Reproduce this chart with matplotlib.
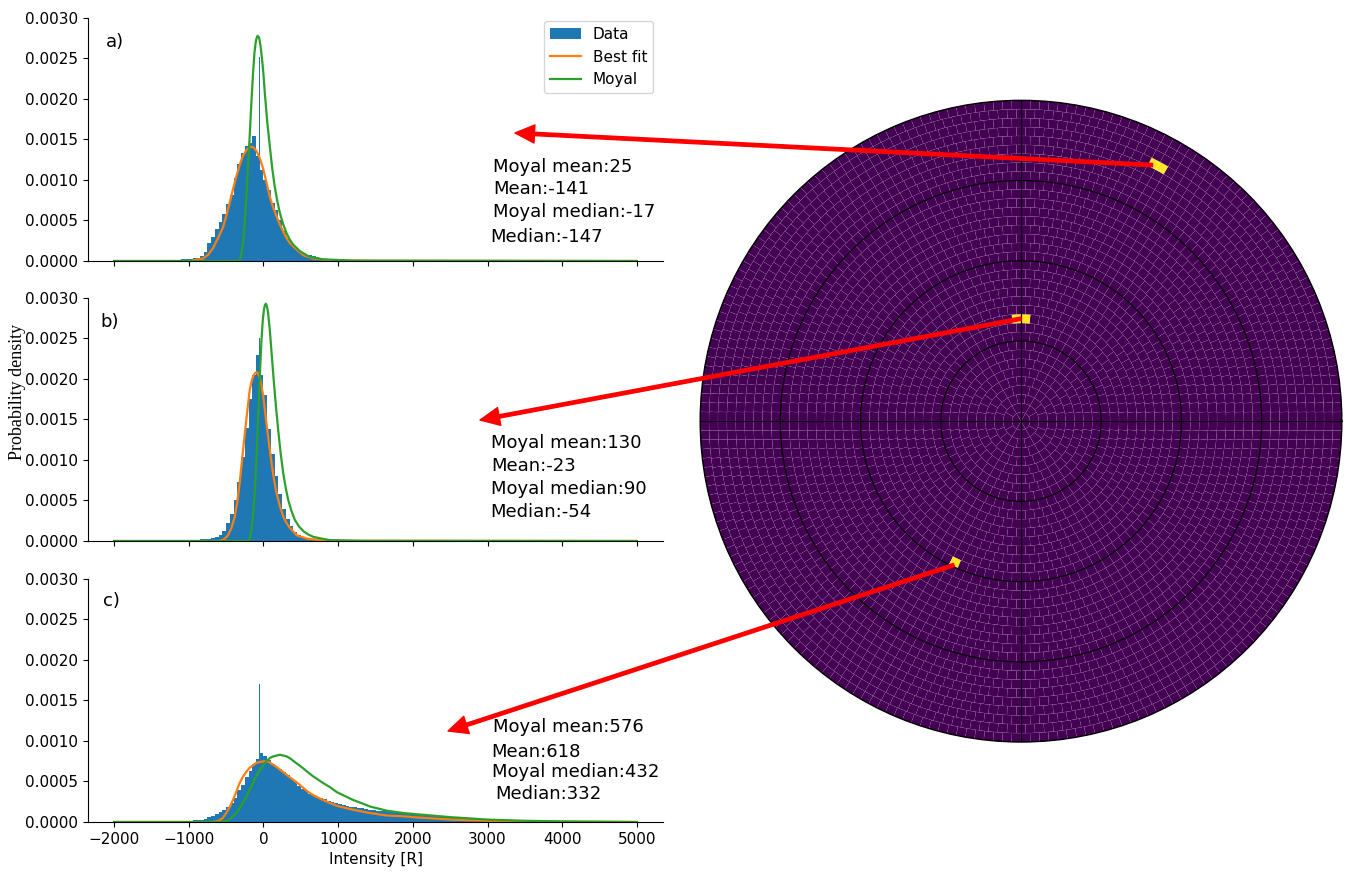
import numpy as np
import matplotlib
matplotlib.use('Agg')
import matplotlib.pyplot as plt
from matplotlib.ticker import FormatStrFormatter

# ---- histogram data (probability density per bin) ----
ab_edges = np.arange(-1100, 1101, 50)
a_hist = [0.00002, 0.00002, 0.00003, 0.00004, 0.00004, 0.00006, 0.00011, 0.00022, 0.0003, 0.00039,
          0.00048, 0.00058, 0.0007, 0.00082, 0.00103, 0.0012, 0.00133, 0.00142, 0.00146, 0.00154,
          0.0013, 0.00112, 0.001, 0.00088, 0.00072, 0.00063, 0.0005, 0.00037, 0.00027, 0.0002,
          0.00016, 0.00012, 0.0001, 0.00008, 0.00007, 0.00006, 0.00005, 0.00004, 0.00003, 0.00003,
          0.00002, 0.00002, 0.00001, 0.00001]
b_hist = [0, 0, 0, 0, 0.00001, 0.00002, 0.00003, 0.00003, 0.00004, 0.00005,
          0.00007, 0.00012, 0.00022, 0.00033, 0.0005, 0.00073, 0.00104, 0.0014, 0.00175, 0.00205,
          0.0023, 0.00205, 0.0018, 0.00138, 0.00108, 0.0008, 0.00058, 0.0004, 0.00027, 0.00018,
          0.00011, 0.00008, 0.00005, 0.00004, 0.00003, 0.00002, 0.00002, 0.00001, 0.00001, 0.00001,
          0.00001, 0, 0, 0]
c_edges = np.concatenate([np.arange(-1100, 2100, 50), np.arange(2100, 5001, 100)])
c_hist = [0.00001, 0.00001, 0.00001, 0.00002, 0.00002, 0.00003, 0.00004, 0.00006, 0.00008, 0.0001,
          0.00012, 0.00015, 0.00019, 0.00023, 0.0003, 0.00039, 0.00046, 0.00056, 0.00063, 0.00071,
          0.00078, 0.00085, 0.00082, 0.00077, 0.00071, 0.00068, 0.00066, 0.00062, 0.00058, 0.00054,
          0.0005, 0.00045, 0.00041, 0.00038, 0.00035, 0.00033, 0.00031, 0.0003, 0.00028, 0.00026,
          0.00025, 0.00023, 0.00022, 0.00021, 0.0002, 0.00019, 0.00018, 0.00017, 0.00017, 0.00016,
          0.00015, 0.00015, 0.00014, 0.00014, 0.00013, 0.00013, 0.00012, 0.00012, 0.00011, 0.00011,
          0.0001, 0.0001, 0.0001, 0.00009,
          0.00009, 0.00008, 0.00007, 0.00006, 0.00006, 0.00005, 0.00005, 0.00004, 0.00004, 0.00003,
          0.00003, 0.00003, 0.00002, 0.00002, 0.00002, 0.00002, 0.00002, 0.00001, 0.00001, 0.00001,
          0.00001, 0.00001, 0.00001, 0.00001, 0.00001, 0.00001, 0.00001, 0.00001, 0.00001]
spike_x = [-58, -58, -58]
spike_h = [0.00252, 0.0025, 0.0017]

# ---- fitted curves ----
a_fit_x = [-2000, -990, -810, -740, -675, -610, -540, -495, -450, -410, -365, -320, -275, -220, -170,
           -130, -95, -50, -5, 40, 85, 130, 175, 220, 265, 310, 355, 400, 445, 535, 670, 890, 1500, 5000]
a_fit_y = [0, 0, 0.00003, 0.00008, 0.00016, 0.00028, 0.00042, 0.00057, 0.00073, 0.00088, 0.00104,
           0.00118, 0.0013, 0.00138, 0.00141, 0.0014, 0.00136, 0.00127, 0.00114, 0.00097, 0.00079,
           0.00066, 0.00055, 0.00045, 0.00036, 0.00028, 0.00022, 0.00018, 0.00014, 0.00007, 0.00003,
           0.00001, 0.000002, 0]
a_moy_x = [-2000, -320, -298, -275, -252, -230, -208, -185, -162, -140, -120, -100, -80, -60, -40,
           -20, 0, 18, 50, 85, 120, 150, 185, 220, 265, 310, 355, 400, 490, 620, 800, 1200, 5000]
a_moy_y = [0, 0, 0.00008, 0.00022, 0.00046, 0.00079, 0.00116, 0.00154, 0.00196, 0.00232, 0.00258,
           0.00273, 0.00278, 0.00276, 0.00266, 0.0025, 0.0023, 0.00207, 0.00172, 0.00141, 0.00112,
           0.00092, 0.00074, 0.00059, 0.00045, 0.00034, 0.00026, 0.0002, 0.00012, 0.00005, 0.00002,
           0.000005, 0]
b_fit_x = [-2000, -590, -530, -475, -430, -385, -350, -320, -285, -250, -215, -185, -155, -130, -105,
           -85, -60, -40, -5, 40, 75, 108, 140, 175, 220, 265, 310, 355, 445, 580, 760, 1200, 5000]
b_fit_y = [0, 0, 0.00002, 0.00007, 0.00016, 0.0003, 0.00049, 0.00071, 0.00102, 0.00133, 0.00162,
           0.00186, 0.00199, 0.00205, 0.00208, 0.00208, 0.00204, 0.00198, 0.0018, 0.00145, 0.00119,
           0.00096, 0.00076, 0.00059, 0.00043, 0.0003, 0.00022, 0.00016, 0.00007, 0.00003, 0.00001,
           0.000002, 0]
b_moy_x = [-2000, -205, -182, -160, -138, -115, -94, -72, -50, -27, -10, 5, 18, 31, 45, 60, 85, 112,
           140, 168, 197, 230, 264, 297, 330, 375, 420, 475, 535, 600, 670, 890, 1300, 5000]
b_moy_y = [0, 0, 0.00004, 0.00014, 0.00034, 0.00063, 0.00104, 0.00153, 0.00203, 0.00248, 0.00272,
           0.00285, 0.00291, 0.00293, 0.0029, 0.00283, 0.0026, 0.00228, 0.00195, 0.00165, 0.00137,
           0.00108, 0.00084, 0.00066, 0.00051, 0.00037, 0.00026, 0.00018, 0.00012, 0.00008, 0.00005,
           0.00001, 0.000003, 0]
c_fit_x = [-2000, -675, -630, -590, -545, -500, -455, -410, -365, -320, -275, -230, -185, -140, -95,
           -50, 10, 76, 125, 175, 230, 287, 340, 400, 470, 535, 600, 670, 800, 980, 1205, 1430, 1650,
           1880, 2000, 2500, 3000, 4000, 5000]
c_fit_y = [0, 0, 0.00001, 0.00002, 0.00005, 0.00011, 0.00018, 0.00027, 0.00037, 0.00048, 0.00056,
           0.00062, 0.00067, 0.0007, 0.00073, 0.00074, 0.00075, 0.00074, 0.00071, 0.00068, 0.00064,
           0.0006, 0.00056, 0.00052, 0.00047, 0.00042, 0.00037, 0.00033, 0.00027, 0.0002, 0.00015,
           0.00011, 0.00008, 0.00007, 0.00006, 0.00003, 0.000015, 0.000004, 0]
c_moy_x = [-2000, -590, -545, -500, -455, -410, -365, -320, -275, -230, -185, -140, -95, -50, 0,
           40, 85, 130, 175, 220, 265, 310, 365, 420, 480, 535, 600, 670, 735, 800, 890, 980, 1090,
           1205, 1320, 1430, 1650, 1880, 2000, 2500, 3000, 3500, 4000, 5000]
c_moy_y = [0, 0, 0.000003, 0.00001, 0.00003, 0.00007, 0.00011, 0.00017, 0.00024, 0.00031, 0.0004,
           0.00048, 0.00057, 0.00064, 0.00071, 0.00075, 0.00079, 0.00081, 0.00082, 0.00083, 0.00082,
           0.00081, 0.00078, 0.00074, 0.0007, 0.00066, 0.00061, 0.00056, 0.00052, 0.00048, 0.00043,
           0.00037, 0.00032, 0.00027, 0.00023, 0.00019, 0.00014, 0.00011, 0.0001, 0.00006, 0.00003,
           0.000015, 0.000007, 0]

panel_labels = ['a)', 'b)', 'c)']
stats_labels = [['Moyal mean:25', 'Mean:-141', 'Moyal median:-17', 'Median:-147'],
                ['Moyal mean:130', 'Mean:-23', 'Moyal median:90', 'Median:-54'],
                ['Moyal mean:576', 'Mean:618', 'Moyal median:432', 'Median:332']]

# ---- polar map ----
n_rings = 36
hot_cells = [(32, 61), (32, 62.5), (11, 87), (11, 92), (17, 245)]   # (ring, angle deg)

blue = '#1f77b4'
orange = '#ff7f0e'
green = '#2ca02c'

fig = plt.figure(figsize=(13.5, 8.72), dpi=100)

panels = [
    (0.70069, ab_edges, a_hist, a_fit_x, a_fit_y, a_moy_x, a_moy_y),
    (0.37959, ab_edges, b_hist, b_fit_x, b_fit_y, b_moy_x, b_moy_y),
    (0.05734, c_edges, c_hist, c_fit_x, c_fit_y, c_moy_x, c_moy_y),
]
# text anchors (x data, y data) for the stats lines
stats_pos = [[(3080, 0.00116), (3080, 0.00089), (3080, 0.0006), (3040, 0.0003)],
             [(3050, 0.00121), (3050, 0.00093), (3050, 0.00064), (3040, 0.00036)],
             [(3080, 0.00117), (3050, 0.00086), (3065, 0.00062), (3105, 0.00035)]]
label_pos = [(-2108, 0.0027), (-2188, 0.0027), (-2148, 0.00273)]

axes = []
for i, (bot, edges, hist, fx, fy, mx, my) in enumerate(panels):
    ax = fig.add_axes([0.0652, bot, 0.4259, 0.27867])
    h_data = ax.stairs(hist, edges, fill=True, color=blue, label='Data')
    ax.bar(spike_x[i], spike_h[i], width=14, color=blue)
    h_fit, = ax.plot(fx, fy, color=orange, lw=1.6, label='Best fit')
    h_moy, = ax.plot(mx, my, color=green, lw=1.6, label='Moyal')
    ax.set_xlim(-2350, 5350)
    ax.set_ylim(0, 0.003)
    ax.set_yticks(np.arange(0, 0.00301, 0.0005))
    ax.set_xticks(np.arange(-2000, 5001, 1000))
    ax.yaxis.set_major_formatter(FormatStrFormatter('%.4f'))
    ax.spines['top'].set_visible(False)
    ax.spines['right'].set_visible(False)
    ax.tick_params(labelsize=11)
    if i < 2:
        ax.set_xticklabels([])
    ax.text(label_pos[i][0], label_pos[i][1], panel_labels[i], fontsize=13, va='center', ha='left')
    for txt, (tx, ty) in zip(stats_labels[i], stats_pos[i]):
        ax.text(tx, ty, txt, fontsize=13, va='center', ha='left')
    if i == 0:
        ax.legend([h_data, h_fit, h_moy], ['Data', 'Best fit', 'Moyal'], loc='upper left',
                  bbox_to_anchor=(0.793, 0.988), borderaxespad=0, fontsize=11)
    axes.append(ax)

axes[2].set_xlabel('Intensity [R]', fontsize=11)
fig.text(0.0126, 0.55, 'Probability density', rotation=90, ha='center', va='center',
         fontsize=13, family='Liberation Serif')

# polar map
pax = fig.add_axes([0.5185, 0.149, 0.4756, 0.736], projection='polar')
cmap = plt.get_cmap('viridis')
for r in range(n_rings):
    n_sec = 6 * (r + 1)
    w = 360.0 / n_sec
    theta = np.deg2rad(np.arange(n_sec) * w)
    vals = np.zeros(n_sec)
    for ring, ang in hot_cells:
        if ring == r:
            vals[int(ang // w) % n_sec] = 1.0
    pax.bar(theta, 1, width=np.deg2rad(w), bottom=r, align='edge', color=cmap(vals),
            edgecolor=(1, 1, 1, 0.1), linewidth=0.35)
pax.set_ylim(0, n_rings)
pax.set_rticks([9, 18, 27, 36])
pax.set_xticks(np.deg2rad([0, 90, 180, 270]))
pax.set_xticklabels([])
pax.set_yticklabels([])
pax.grid(True, color='black', lw=0.9)
pax.spines['polar'].set_color('black')
pax.spines['polar'].set_linewidth(0.9)

arrow_heads = [(0.3815, 0.8475), (0.3556, 0.5183), (0.3319, 0.1617)]
arrow_tails = [(62.8, 32.3), (90, 11.5), (245, 17.8)]
for (hx, hy), (ta, tr) in zip(arrow_heads, arrow_tails):
    pax.annotate('', xy=(hx, hy), xycoords='figure fraction',
                 xytext=(np.deg2rad(ta), tr), textcoords='data',
                 arrowprops=dict(facecolor='red', edgecolor='red', width=2.4,
                                 headwidth=13, headlength=14, shrink=0),
                 annotation_clip=False, zorder=5)

fig.savefig('out.png', dpi=100)
